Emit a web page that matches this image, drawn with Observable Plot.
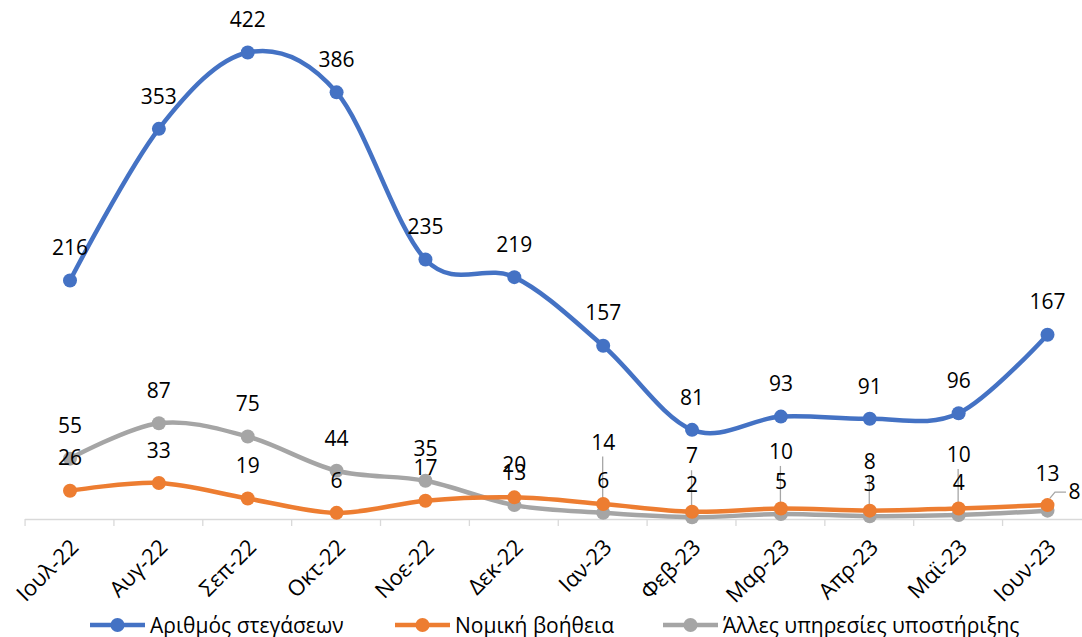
<!DOCTYPE html>
<html>
<head>
<meta charset="utf-8">
<script src="https://cdn.jsdelivr.net/npm/d3@7"></script>
<script src="https://cdn.jsdelivr.net/npm/@observablehq/plot@0.6"></script>
<style>
  body { margin: 0; background: #fff; font-family: "Open Sans", sans-serif; }
  #chart svg { display: block; }
  #legend { position: relative; width: 1082px; height: 25px; }
  .item { position: absolute; top: 0; height: 26px; display: flex; align-items: center; font-size: 21px; color: #000; white-space: nowrap; }
  .item svg { margin-right: 5px; }
</style>
</head>
<body>
<div id="chart"></div>
<div id="legend"></div>
<script>
const months = ["Ιουλ-22","Αυγ-22","Σεπ-22","Οκτ-22","Νοε-22","Δεκ-22","Ιαν-23","Φεβ-23","Μαρ-23","Απρ-23","Μαϊ-23","Ιουν-23"];
const housing = [216,353,422,386,235,219,157,81,93,91,96,167];
const legalAid = [26,33,19,6,17,20,14,7,10,8,10,13];
const otherServices = [55,87,75,44,35,13,6,2,5,3,4,8];
const seriesNames = ["Αριθμός στεγάσεων","Νομική βοήθεια","Άλλες υπηρεσίες υποστήριξης"];
const colors = ["#4472C4","#ED7D31","#A5A5A5"];

const seriesValues = [housing, legalAid, otherServices];
const rows = [];
seriesValues.forEach((vals, s) => vals.forEach((v, i) => rows.push({month: months[i], value: v, series: seriesNames[s], s, i})));

// label offsets (layout only)
const defaultDy = -32;
const labelDy = {
  "1-6": -61, "1-7": -55, "1-8": -56, "1-9": -48, "1-10": -53, "1-11": -31,
  "2-11": -18
};
const labelDx = {"2-11": 21};
const labelAnchor = {"2-11": "start"};
// leader lines: [series, index]
const leaderKeys = [[1,6],[1,7],[1,8],[1,9],[1,10],[2,11]];

const font = "'Open Sans', sans-serif";

const groups = d3.group(rows, d => {
  const k = d.s + "-" + d.i;
  return [labelDx[k] ?? 0, labelDy[k] ?? defaultDy, labelAnchor[k] ?? "middle"].join("|");
});
const labelMarks = [];
for (const [key, data] of groups) {
  const [dx, dy, anchor] = key.split("|");
  labelMarks.push(Plot.text(data, {
    x: "month", y: "value", text: d => String(d.value),
    dx: +dx, dy: +dy, textAnchor: anchor,
    fill: "#000", fontSize: 21, fontFamily: font
  }));
}

const leaders = (index, scales) => {
  const g = d3.create("svg:g").attr("fill", "none").attr("stroke", "#A6A6A6").attr("stroke-width", 1.3);
  for (const [s, i] of leaderKeys) {
    const k = s + "-" + i;
    const x = scales.x(months[i]);
    const y = scales.y(seriesValues[s][i]);
    const dy = labelDy[k];
    if (labelAnchor[k] === "start") {
      const ly = y + dy;
      g.append("path").attr("d", `M${x + 3},${y - 12}L${x + 8},${ly}L${x + labelDx[k] - 2},${ly}`);
    } else {
      g.append("path").attr("d", `M${x},${y + dy + 14}L${x},${y}`);
    }
  }
  return g.node();
};

const axisTicks = (index, scales) => {
  const g = d3.create("svg:g").attr("stroke", "#D9D9D9").attr("stroke-width", 1.3);
  const step = scales.x(months[1]) - scales.x(months[0]);
  const y0 = scales.y(0);
  months.forEach(m => {
    const x = scales.x(m) - step / 2;
    g.append("line").attr("x1", x).attr("x2", x).attr("y1", y0).attr("y2", y0 + 7);
  });
  return g.node();
};

const chart = Plot.plot({
  width: 1082,
  height: 612,
  marginLeft: 25,
  marginRight: 0,
  marginTop: 0,
  marginBottom: 0,
  style: {fontFamily: font, background: "#fff"},
  x: {type: "point", domain: months, range: [69.5, 1047], padding: 0, round: false, axis: null},
  y: {domain: [0, 422], range: [519, 52], axis: null},
  marks: [
    Plot.ruleY([0], {stroke: "#D9D9D9", strokeWidth: 1.3}),
    axisTicks,
    Plot.text(months, {
      x: d => d, y: () => 0, text: d => d, rotate: -45,
      textAnchor: "end", dx: 5, dy: 24, fontSize: 22, fontFamily: font, fill: "#000"
    }),
    leaders,
    ...[2, 1, 0].map(s => Plot.line(rows.filter(d => d.s === s), {
      x: "month", y: "value", stroke: colors[s], strokeWidth: 4.5,
      curve: d3.curveCatmullRom.alpha(0)
    })),
    ...[2, 1, 0].map(s => Plot.dot(rows.filter(d => d.s === s), {
      x: "month", y: "value", r: 7, fill: colors[s], stroke: "none"
    })),
    ...labelMarks
  ]
});
document.getElementById("chart").appendChild(chart);

const legend = document.getElementById("legend");
const lefts = [90, 395, 663];
seriesNames.forEach((name, s) => {
  const item = document.createElement("div");
  item.className = "item";
  item.style.left = lefts[s] + "px";
  item.innerHTML = `<svg width="55" height="16"><line x1="0" x2="55" y1="8" y2="8" stroke="${colors[s]}" stroke-width="4.5"/><circle cx="27.5" cy="8" r="7" fill="${colors[s]}"/></svg><span>${name}</span>`;
  legend.appendChild(item);
});
</script>
</body>
</html>
